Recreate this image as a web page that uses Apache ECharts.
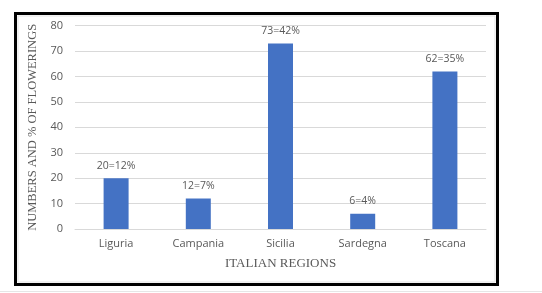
<!DOCTYPE html>
<html>
<head>
<meta charset="utf-8">
<script src="https://cdn.jsdelivr.net/npm/echarts@6/dist/echarts.min.js"></script>
<style>
html,body{margin:0;padding:0;background:#fff;}
#c{width:542px;height:293px;}
</style>
</head>
<body>
<div id="c"></div>
<script>
const categories = ["Liguria", "Campania", "Sicilia", "Sardegna", "Toscana"];
const counts = [20, 12, 73, 6, 62];
const percents = [12, 7, 42, 4, 35];
const yTicks = [0, 10, 20, 30, 40, 50, 60, 70, 80];
const xTitle = "ITALIAN REGIONS";
const yTitle = "NUMBERS AND % OF FLOWERINGS";

const chart = echarts.init(document.getElementById('c'), null, {renderer: 'canvas'});
chart.setOption({
  animation: false,
  backgroundColor: '#ffffff',
  graphic: [
    {type: 'rect', shape: {x: 18, y: 16, width: 477, height: 266}, style: {fill: 'none', stroke: '#e3e3e3', lineWidth: 1}, z: 99},
    {type: 'rect', shape: {x: 15.5, y: 13.5, width: 482, height: 271}, style: {fill: 'none', stroke: '#000', lineWidth: 3}, z: 100},
    {type: 'line', shape: {x1: 0, y1: 291.5, x2: 542, y2: 291.5}, style: {stroke: '#e6e6e6', lineWidth: 1}}
  ],
  grid: {left: 75, right: 56, top: 25.7, bottom: 64},
  xAxis: {
    type: 'category',
    data: categories,
    axisTick: {show: false},
    axisLine: {lineStyle: {color: '#d9d9d9'}},
    axisLabel: {color: '#595959', fontSize: 11, margin: 9, fontFamily: 'Open Sans'},
    name: xTitle,
    nameLocation: 'middle',
    nameGap: 28,
    nameTextStyle: {color: '#595959', fontSize: 13, fontFamily: 'Liberation Serif'}
  },
  yAxis: {
    type: 'value',
    min: yTicks[0],
    max: yTicks[yTicks.length - 1],
    interval: yTicks[1] - yTicks[0],
    axisLine: {show: false},
    axisTick: {show: false},
    splitLine: {lineStyle: {color: '#d9d9d9'}},
    axisLabel: {color: '#595959', fontSize: 11, margin: 12, fontFamily: 'Open Sans'},
    name: yTitle,
    nameLocation: 'middle',
    nameRotate: 90,
    nameGap: 36,
    nameTextStyle: {color: '#595959', fontSize: 12.5, fontFamily: 'Liberation Serif'}
  },
  series: [{
    type: 'bar',
    data: counts,
    barWidth: 25,
    itemStyle: {color: '#4472C4'},
    label: {
      show: true,
      position: 'top',
      distance: 7,
      color: '#595959',
      fontSize: 10.5,
      fontFamily: 'Open Sans',
      formatter: p => counts[p.dataIndex] + '=' + percents[p.dataIndex] + '%'
    }
  }]
});
</script>
</body>
</html>
